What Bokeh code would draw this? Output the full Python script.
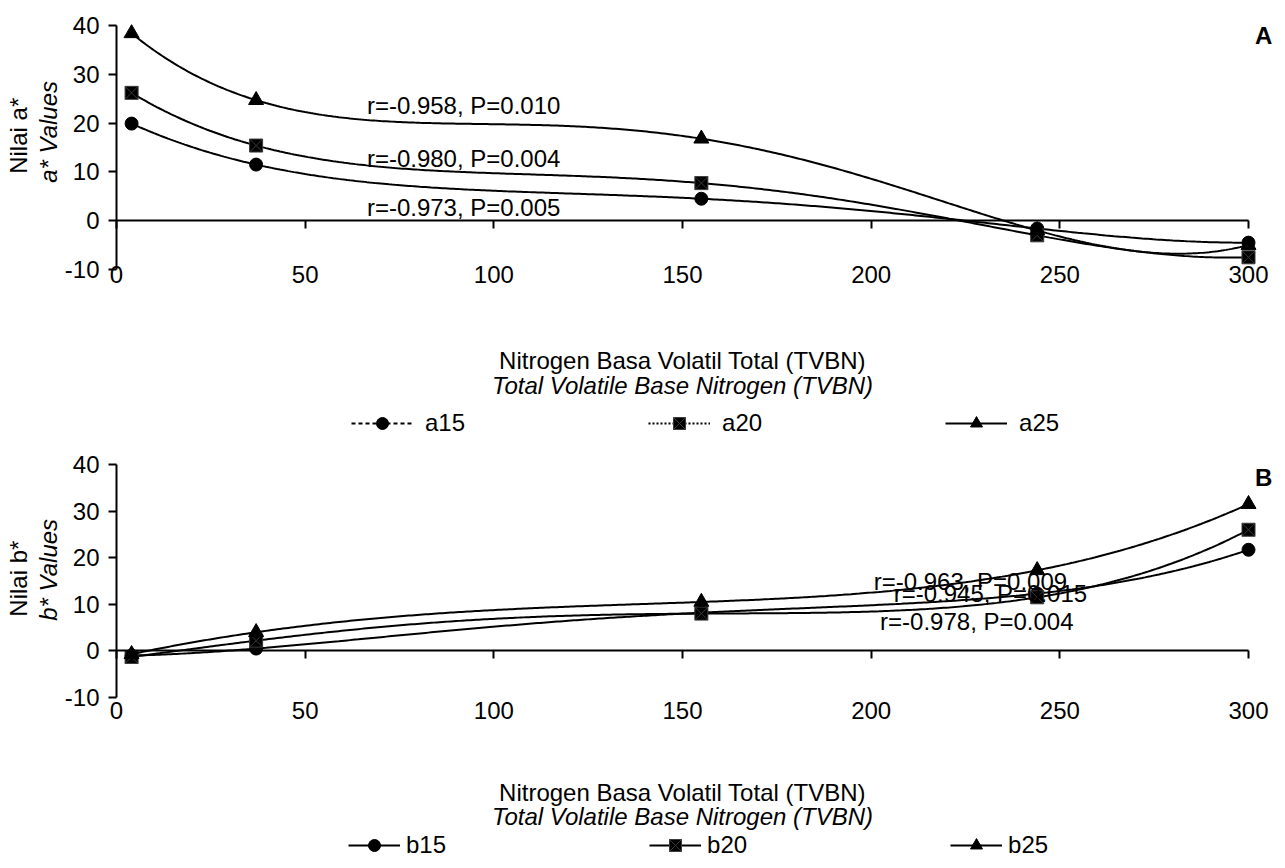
import numpy as np
from bokeh.plotting import figure
from bokeh.models import (Range1d, LinearAxis, FixedTicker, Legend, LegendItem,
                          Label, ColumnDataSource)
from bokeh.layouts import column
from bokeh.embed import file_html
from bokeh.resources import INLINE
from bokeh.core.properties import value

# ---------------- data ----------------
tvbn = [4, 37, 155, 244, 300]
a15 = [19.9, 11.5, 4.5, -1.6, -4.5]
a20 = [26.2, 15.4, 7.7, -3.0, -7.5]
a25 = [38.4, 24.7, 16.8, -2.0, -5.0]
b15 = [-1.0, 0.5, 8.2, 12.3, 21.7]
b20 = [-1.3, 2.2, 8.0, 11.5, 26.0]
b25 = [-0.7, 4.0, 10.5, 17.3, 31.5]

x_ticks = [0, 50, 100, 150, 200, 250, 300]
y_ticks = [-10, 0, 10, 20, 30, 40]

a_names = ["a15", "a20", "a25"]
b_names = ["b15", "b20", "b25"]
a_stats = ["r=-0.973, P=0.005", "r=-0.980, P=0.004", "r=-0.958, P=0.010"]
b_stats = ["r=-0.978, P=0.004", "r=-0.945, P=0.015", "r=-0.963, P=0.009"]

x_title = "Nitrogen Basa Volatil Total (TVBN)"
x_title_en = "Total Volatile Base Nitrogen (TVBN)"

# ---------------- layout / style ----------------
FONT = "Liberation Sans"
FS = "24px"
markers = ["circle", "square_x", "triangle"]
msizes = [13, 13, 15]
W = 1277
X0_PX = 116              # pixel of x=0 inside figure
X_SCALE = 1132 / 300.0   # px per x unit


def make_panel(series, names, stats, letter, ylab1, ylab2, legend_dashes,
               fig_h, top40_px, bot10_px, xlab_sd, txt, leg_cfg):
    y_scale = (bot10_px - top40_px) / 50.0
    y_hi = 40 + top40_px / y_scale
    y_lo = 40 - (fig_h - top40_px) / y_scale
    x_lo = -X0_PX / X_SCALE
    x_hi = (W - X0_PX) / X_SCALE

    p = figure(width=W, height=fig_h, output_backend="svg", toolbar_location=None,
               x_range=Range1d(x_lo, x_hi), y_range=Range1d(y_lo, y_hi),
               x_axis_type=None, y_axis_type=None, min_border=0)
    p.outline_line_color = None

    # tick labels axis at the bottom of the value area
    xl = LinearAxis(fixed_location=-10, ticker=FixedTicker(ticks=x_ticks),
                    bounds=(0, 300), axis_line_color=None,
                    major_tick_line_color=None, minor_tick_line_color=None,
                    major_tick_out=0, major_tick_in=0, major_label_standoff=xlab_sd,
                    major_label_text_font=FONT, major_label_text_font_size=FS,
                    major_label_text_color="black")
    p.add_layout(xl, "below")

    # zero line with downward ticks
    za = LinearAxis(fixed_location=0, ticker=FixedTicker(ticks=x_ticks),
                    bounds=(0, 300), major_tick_out=8, major_tick_in=0,
                    major_tick_line_width=2, axis_line_width=2,
                    minor_tick_line_color=None,
                    major_label_text_font_size="0px", major_label_text_color=None)
    p.add_layout(za, "below")

    ya = LinearAxis(fixed_location=0, ticker=FixedTicker(ticks=y_ticks),
                    bounds=(-10, 40), major_label_overrides={-10: "-10"},
                    axis_line_width=2, major_tick_line_width=2,
                    major_tick_out=8, major_tick_in=0, minor_tick_line_color=None,
                    major_label_standoff=9, major_label_text_font=FONT,
                    major_label_text_font_size=FS, major_label_text_color="black")
    p.add_layout(ya, "left")

    # trend lines (4th order polynomial through the series) and markers
    xs = np.linspace(min(tvbn), max(tvbn), 400)
    items = []
    for ys, name, mk, ms, dash in zip(series, names, markers, msizes, legend_dashes):
        coef = np.polyfit(tvbn, ys, 4)
        ln = p.line(xs, np.polyval(coef, xs), line_color="black", line_width=2)
        sc = p.scatter(tvbn, ys, marker=mk, size=ms, fill_color="black",
                       line_color="#3a3a3a" if mk == "square_x" else "black",
                       line_width=1)
        if dash is None:
            lg = ln
        else:
            lg = p.line(x=[np.nan], y=[np.nan], line_color="black", line_width=2,
                        line_dash=dash)
        items.append(LegendItem(label=name, renderers=[lg, sc]))

    src = ColumnDataSource(dict(x=txt["sx"], y=txt["sy"], t=stats))
    p.text(x="x", y="y", text="t", source=src, text_font=value(FONT),
           text_font_size=value(FS), text_align="center", text_baseline="middle",
           text_color="black")

    def lab(x, y, text, style="normal", angle=0.0):
        p.add_layout(Label(x=x, y=y, text=text, angle=angle, text_font=FONT,
                           text_font_size=FS, text_font_style=style,
                           text_color="black", text_align="center",
                           text_baseline="middle"))

    lab(304, txt["letter_y"], letter, "bold")
    lab(150, txt["xt1"], x_title)
    lab(150, txt["xt2"], x_title_en, "italic")
    lab(txt["yl1_x"], txt["yl1_y"], ylab1, "normal", np.pi / 2)
    lab(txt["yl2_x"], txt["yl2_y"], ylab2, "italic", np.pi / 2)

    glyph_w, label_sd, spacing, lx, ly = leg_cfg
    leg = Legend(items=items, orientation="horizontal", location=(lx, ly),
                 border_line_color=None, background_fill_alpha=0, padding=2,
                 margin=0, glyph_width=glyph_w, glyph_height=30,
                 label_standoff=label_sd, spacing=spacing,
                 label_text_font=FONT, label_text_font_size=FS,
                 label_text_color="black")
    p.add_layout(leg)
    return p


txtA = dict(sx=[92, 92, 92], sy=[2.7, 12.7, 23.6], letter_y=37.9,
            xt1=-28.7, xt2=-33.8, yl1_x=-26.0, yl1_y=17.4, yl2_x=-18.0, yl2_y=18.2)
txtB = dict(sx=[228, 231.6, 226.3], sy=[6.4, 12.4, 14.8], letter_y=37.3,
            xt1=-30.3, xt2=-35.6, yl1_x=-25.9, yl1_y=15.5, yl2_x=-18.0, yl2_y=17.4)

pA = make_panel([a15, a20, a25], a_names, a_stats, "A", "Nilai a*", "a* Values",
                ["4 3", "2 2", None], 438, 25, 269, -4, txtA, (62, 12, 183, 351, 0))
pB = make_panel([b15, b20, b25], b_names, b_stats, "B", "Nilai b*", "b* Values",
                [None, None, None], 422, 26, 259, 4, txtB, (52, 6, 203, 348, 0))

layout = column(pA, pB)
open("out.html", "w").write(file_html(layout, INLINE))
